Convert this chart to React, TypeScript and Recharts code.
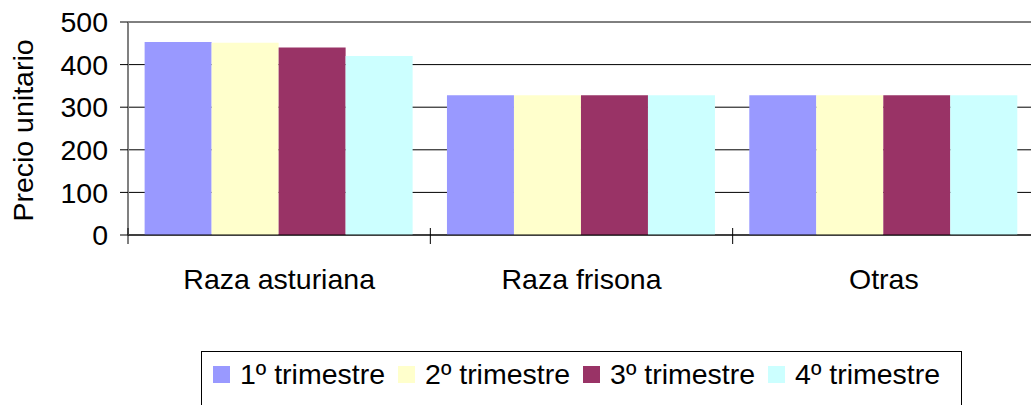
import { BarChart, Bar, XAxis, YAxis, CartesianGrid, Label } from "recharts";

const categories = ["Raza asturiana", "Raza frisona", "Otras"];
const trimestre1 = [453, 328, 328];
const trimestre2 = [451, 328, 328];
const trimestre3 = [440, 328, 328];
const trimestre4 = [420, 328, 328];
const seriesNames = ["1º trimestre", "2º trimestre", "3º trimestre", "4º trimestre"];
const seriesColors = ["#9999FF", "#FFFFCC", "#993366", "#CCFFFF"];
const yTicks = [0, 100, 200, 300, 400, 500];

const seriesValues = [trimestre1, trimestre2, trimestre3, trimestre4];
const data = categories.map((name, i) => {
  const row: Record<string, string | number> = { name };
  seriesValues.forEach((vals, s) => {
    row["t" + s] = vals[i];
  });
  return row;
});

const FONT = "'Liberation Sans', Arial, sans-serif";
const FS = 28.5;
const X_TICK_MARGIN = 34;

function CategoryTick(props: any) {
  const { x, y, payload, width, visibleTicksCount, index } = props;
  const half = payload?.offset ?? width / visibleTicksCount / 2;
  const axisY = y - X_TICK_MARGIN;
  const isLast = index === visibleTicksCount - 1;
  return (
    <g>
      <line x1={x - half} x2={x - half} y1={axisY - 7} y2={axisY + 9} stroke="#000" />
      {isLast && <line x1={x + half} x2={x + half} y1={axisY - 7} y2={axisY + 9} stroke="#000" />}
      <text x={x} y={y} dy="0.71em" textAnchor="middle" fontSize={FS} fontFamily={FONT} fill="#000">
        {payload.value}
      </text>
    </g>
  );
}

export default function App() {
  return (
    <div
      style={{
        position: "absolute",
        left: 0,
        top: 0,
        width: 1031,
        height: 405,
        overflow: "hidden",
        background: "#fff",
        fontFamily: FONT,
      }}
    >
      <BarChart
        width={1040}
        height={405}
        data={data}
        margin={{ top: 22, right: 5, left: 0, bottom: 0 }}
        barCategoryGap="5.5%"
        barGap={0}
      >
        <CartesianGrid vertical={false} stroke="#000" />
        <XAxis
          dataKey="name"
          height={170}
          axisLine={{ stroke: "#000" }}
          tickLine={false}
          tickSize={0}
          tickMargin={X_TICK_MARGIN}
          interval={0}
          tick={(p: any) => <CategoryTick {...p} />}
        />
        <YAxis
          width={128}
          domain={[0, 500]}
          ticks={yTicks}
          axisLine={{ stroke: "#808080", strokeWidth: 2 }}
          tickLine={{ stroke: "#000" }}
          tickSize={8}
          tickMargin={12}
          tick={{ fontSize: FS, fontFamily: FONT, fill: "#000" }}
        >
          <Label
            content={(lp: any) => {
              const vb = lp.viewBox || { x: 0, y: 22, width: 128, height: 213 };
              const cx = vb.x + 33;
              const cy = vb.y + vb.height / 2 + 2;
              return (
                <text
                  x={cx}
                  y={cy}
                  transform={`rotate(-90, ${cx}, ${cy})`}
                  textAnchor="middle"
                  fontSize={FS}
                  fontFamily={FONT}
                  fill="#000"
                >
                  Precio unitario
                </text>
              );
            }}
          />
        </YAxis>
        {seriesNames.map((n, s) => (
          <Bar key={n} dataKey={"t" + s} name={n} fill={seriesColors[s]} isAnimationActive={false} />
        ))}
      </BarChart>
      <div
        style={{
          position: "absolute",
          left: 201,
          top: 351,
          width: 748,
          height: 70,
          border: "1px solid #000",
          boxSizing: "content-box",
          paddingLeft: 11,
          paddingTop: 6,
          display: "flex",
          alignItems: "flex-start",
          whiteSpace: "nowrap",
        }}
      >
        {seriesNames.map((n, s) => (
          <div key={n} style={{ display: "flex", alignItems: "center", height: 32, marginRight: 13 }}>
            <span style={{ width: 17, height: 17, background: seriesColors[s], marginRight: 10, display: "inline-block" }} />
            <span style={{ fontSize: FS, lineHeight: "32px", color: "#000" }}>{n}</span>
          </div>
        ))}
      </div>
    </div>
  );
}
